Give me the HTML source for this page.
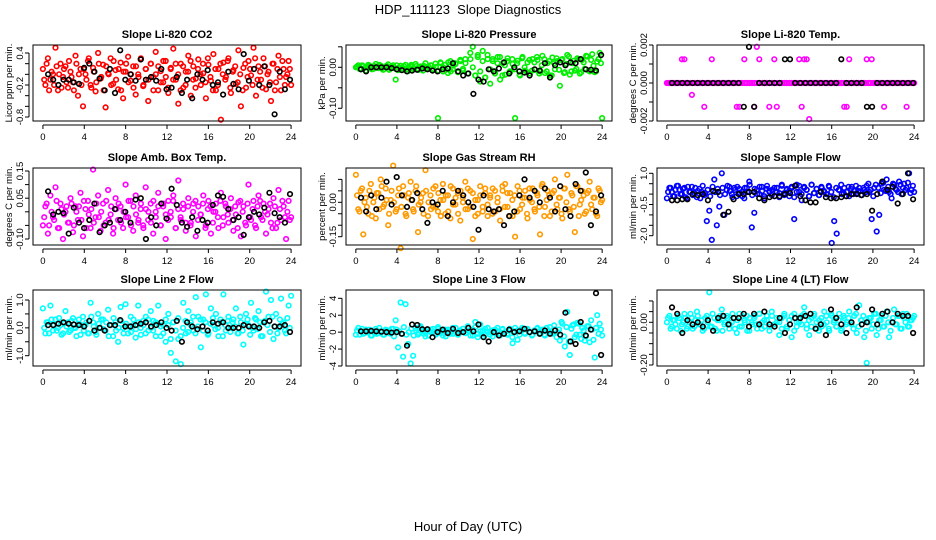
<!DOCTYPE html>
<html><head><meta charset="utf-8">
<style>
html,body{margin:0;padding:0;background:#fff;}
svg{display:block;font-family:"Liberation Sans",sans-serif;}
</style></head>
<body>
<svg id="chart" width="936" height="540" viewBox="0 0 936 540" xmlns="http://www.w3.org/2000/svg">
<text x="468" y="14" text-anchor="middle" font-size="13" style="white-space:pre">HDP_111123  Slope Diagnostics</text>
<text x="468" y="531" text-anchor="middle" font-size="13">Hour of Day (UTC)</text>
</svg>
<script>
// ---- data ----
const xTicks = [0,4,8,12,16,20,24];
const co2Colored = [0.1,-0.2,0.3,-0.1,0.0,0.5,-0.3,0.2,-0.05,0.15,-0.25,0.05,-0.15,0.35,-0.4,0.1,-0.6,0.0,0.25,-0.2,0.12,-0.32,0.4,-0.08,0.18,-0.62,0.02,0.3,-0.18,0.08,-0.28,0.22,-0.45,0.05,0.33,-0.12,0.15,-0.38,0.0,0.28,-0.22,0.1,-0.5,0.2,-0.05,0.42,-0.3,0.06,-0.15,0.25,-0.35,0.12,0.48,-0.1,-0.55,0.2,-0.25,0.05,0.35,-0.4,0.15,-0.08,0.28,-0.2,0.02,-0.45,0.18,-0.12,0.38,-0.3,0.1,-0.85,0.22,-0.05,0.3,-0.35,0.08,-0.18,0.45,-0.6,0.12,-0.25,0.25,-0.02,0.5,-0.4,0.15,-0.1,0.3,-0.28,0.05,-0.5,0.2,-0.15,0.35,-0.3,0.1,-0.05,0.25,-0.2];
const co2Dense = [-0.1,0.2,-0.3,0.05,-0.2,0.15,0.0,-0.25,0.1,-0.15,0.25,-0.05,-0.3,0.2,0.0,-0.2,0.1,-0.1,0.3,-0.25,0.05,-0.15,0.2,-0.05,-0.3,0.15,0.0,-0.2,0.25,-0.1,0.1,-0.3,0.05,0.2,-0.15,0.0,-0.25,0.15,-0.05,0.3,-0.2,0.1,-0.1,0.2,-0.3,0.0,0.15,-0.15,0.25,-0.05,-0.25,0.1,-0.1,0.2,0.0,-0.3,0.15,-0.2,0.05,0.25,-0.1,-0.25,0.1,0.0,0.2,-0.15,0.3,-0.05,-0.3,0.1,-0.2,0.2,0.0,-0.1,0.25,-0.25,0.05,0.15,-0.15,0.0,-0.3,0.2,-0.05,0.1,-0.2,0.3,-0.1,0.05,-0.25,0.15,0.0,-0.15,0.2,-0.3,0.1,-0.05,0.25,-0.2,0.0,0.1];
const co2Black = [0.0,-0.1,-0.2,-0.1,-0.1,-0.15,-0.18,0.12,0.2,0.05,-0.08,-0.3,0.1,-0.35,0.45,-0.1,0.0,-0.12,0.28,-0.1,-0.05,-0.12,0.1,-0.28,-0.25,-0.05,-0.35,-0.1,-0.45,0.0,-0.1,0.08,-0.2,-0.15,-0.38,0.05,-0.18,-0.28,0.38,-0.12,0.1,-0.2,0.15,-0.2,-0.75,0.05,-0.28,-0.1];
const pressColored = [0.0,0.005,-0.005,0.003,-0.008,0.006,0.002,-0.004,0.008,-0.002,0.004,-0.006,0.0,0.007,-0.003,0.005,-0.03,-0.007,0.004,-0.002,0.006,-0.009,0.003,-0.005,0.008,-0.004,0.002,-0.008,0.01,-0.003,0.005,-0.006,0.009,-0.124,0.012,-0.01,0.006,-0.014,0.015,-0.005,0.01,-0.012,0.018,-0.008,0.02,-0.015,0.035,0.05,-0.02,0.03,-0.035,0.04,-0.025,0.02,-0.04,0.015,-0.01,0.025,-0.03,0.01,-0.018,0.022,-0.012,0.008,-0.124,0.016,-0.02,0.025,-0.008,0.012,-0.015,0.02,-0.006,0.018,-0.01,0.028,-0.014,0.01,-0.02,0.024,-0.005,0.015,-0.045,0.02,-0.012,0.03,-0.018,0.01,-0.008,0.022,-0.015,0.018,-0.004,0.026,-0.01,0.032,-0.012,0.014,0.035,-0.124];
const pressDense = [0.002,-0.004,0.005,-0.002,0.0,0.004,-0.005,0.003,-0.001,0.006,-0.003,0.001,0.004,-0.006,0.002,-0.002,0.005,0.0,-0.004,0.003,-0.005,0.001,0.006,-0.002,0.003,-0.006,0.0,0.004,-0.003,0.002,0.005,-0.004,0.001,-0.008,0.01,0.0,-0.006,0.012,-0.01,0.004,0.008,-0.012,0.015,-0.004,0.01,-0.015,0.02,0.0,-0.02,0.025,-0.01,0.015,-0.025,0.03,-0.005,0.02,-0.015,0.01,0.025,-0.02,0.005,0.015,-0.01,0.02,-0.005,0.01,-0.018,0.022,0.0,-0.012,0.018,-0.008,0.012,0.025,-0.015,0.005,0.02,-0.01,0.015,-0.02,0.01,0.022,-0.006,0.018,-0.014,0.008,0.026,-0.01,0.016,-0.004,0.02,-0.012,0.012,0.028,-0.008,0.018,0.004,-0.01,0.02,0.01];
const pressBlack = [-0.005,-0.01,0.0,0.0,0.0,0.0,-0.002,-0.005,-0.007,-0.01,-0.008,-0.006,-0.003,-0.005,-0.008,-0.01,-0.005,-0.003,0.01,-0.01,-0.02,-0.015,-0.065,-0.03,-0.035,-0.005,-0.01,-0.003,0.012,-0.015,0.0,-0.01,-0.013,-0.02,-0.005,-0.008,0.01,-0.025,0.005,0.012,0.005,0.012,0.01,0.02,-0.005,-0.006,-0.008,0.03];
const tempColored = [0,0,0,0,0,0,0.00125,0.00125,0,0,-0.000625,0,0,0,0,-0.00125,0,0,0.00125,0,0,0,0,0,0,0,0,0,-0.00125,-0.00125,0,0.00125,0,0,0,-0.00125,0.0019,0.00125,0,0,0,-0.00125,0,0.00125,-0.00125,0,0,0,0,0,0,0,0,0.00125,-0.00125,0.00125,0.00125,-0.0019,0,0,0,0,0,0,0,0,0,0,0,0,0,-0.00125,-0.00125,0.00125,0,0,0,0,0,0,0.00125,0,0.00125,0,0,0,0,-0.00125,0,0,0,0,0,0,0,0,-0.00125,0,0,0];
const tempDense = [0,0,0,0,0,0,0,0,0,0,0,0,0,0,0,0,0,0,0,0,0,0,0,0,0,0,0,0,0,0,0,0,0,0,0,0,0,0,0,0,0,0,0,0,0,0,0,0,0,0,0,0,0,0,0,0,0,0,0,0,0,0,0,0,0,0,0,0,0,0,0,0,0,0,0,0,0,0,0,0,0,0,0,0,0,0,0,0,0,0,0,0,0,0,0,0,0,0,0,0];
const tempBlack = [0,0,0,0,0,0,0,0,0,0,0,0,0,0,-0.00125,0.0019,-0.00125,0,0,0,0,0,0.00125,0.00125,0,0,0,0,0,0,0,0,0,0.00125,0,0,0,0,-0.00125,-0.00125,0,0,0,0,0,0,0,0];
const ambColored = [-0.05,0.02,-0.08,0.06,-0.02,0.09,-0.06,0.03,-0.1,0.0,-0.04,0.05,-0.075,0.02,-0.03,0.07,-0.09,0.01,0.04,-0.06,0.155,-0.02,0.06,-0.07,0.03,-0.04,0.08,-0.01,-0.08,0.05,-0.03,0.02,-0.06,0.1,-0.02,0.04,-0.07,0.06,-0.04,0.01,-0.05,0.09,-0.03,0.03,-0.08,0.0,0.07,-0.05,0.02,-0.1,0.04,-0.02,0.06,-0.06,0.115,-0.03,0.01,-0.07,0.05,-0.04,0.03,-0.09,0.02,-0.01,0.06,-0.05,0.04,-0.08,0.0,0.03,-0.06,0.07,-0.02,0.02,-0.04,0.05,-0.07,-0.01,0.035,-0.09,0.02,-0.05,0.1,-0.03,0.04,-0.06,0.06,-0.02,0.03,-0.08,0.01,-0.04,0.05,-0.06,0.08,-0.03,0.02,-0.1,0.04,-0.02];
const ambDense = [-0.02,0.03,-0.05,0.0,-0.03,0.04,-0.06,0.01,-0.01,0.02,-0.04,0.03,-0.05,0.0,0.02,-0.03,0.04,-0.06,-0.01,0.01,-0.04,0.03,-0.02,0.0,-0.05,0.04,-0.03,0.02,-0.06,0.01,0.03,-0.04,0.0,-0.02,0.04,-0.05,0.02,-0.01,-0.03,0.03,-0.06,0.01,0.0,-0.04,0.04,-0.02,0.02,-0.05,0.03,-0.01,-0.03,0.0,0.04,-0.06,0.01,-0.02,0.03,-0.04,0.02,-0.05,0.0,0.04,-0.03,-0.01,0.03,-0.06,0.01,0.02,-0.04,0.0,-0.02,0.04,-0.05,0.03,-0.01,0.01,-0.03,0.02,-0.06,0.04,0.0,-0.04,0.03,-0.02,0.01,-0.05,0.02,0.04,-0.03,0.0,-0.01,0.03,-0.06,0.02,-0.04,0.01,0.04,-0.02,0.0,-0.03];
const ambBlack = [0.075,-0.01,0.0,-0.005,-0.08,0.015,-0.04,-0.06,-0.03,0.03,-0.075,-0.05,-0.04,0.01,-0.03,0.0,-0.04,0.045,0.05,-0.1,-0.02,-0.05,0.03,-0.025,0.085,0.025,-0.04,-0.055,-0.02,-0.07,-0.03,-0.04,0.025,0.06,0.055,0.01,-0.03,-0.02,-0.085,-0.02,0.0,-0.01,0.015,0.07,-0.005,-0.02,-0.04,0.065];
const rhColored = [0.12,-0.03,0.05,-0.14,0.02,-0.05,0.08,0.0,-0.07,0.04,0.1,-0.02,0.06,-0.1,0.01,0.16,-0.04,0.03,-0.2,0.07,-0.05,0.02,0.09,-0.03,0.05,-0.13,0.0,0.04,0.14,-0.06,0.03,-0.02,0.07,-0.04,0.01,0.08,-0.05,0.03,-0.07,0.06,-0.01,0.04,-0.08,0.02,0.09,-0.03,0.05,-0.16,0.01,-0.05,0.07,-0.02,0.04,-0.06,0.03,0.06,-0.04,0.02,-0.08,0.05,0.08,-0.02,0.04,-0.06,-0.15,0.07,-0.03,0.02,0.05,-0.07,0.01,0.06,-0.04,0.03,-0.14,0.08,-0.02,0.05,-0.06,0.04,0.1,-0.03,0.02,-0.07,0.06,0.12,-0.04,0.03,-0.13,0.07,-0.01,0.05,-0.05,0.04,0.09,-0.03,0.02,-0.06,0.05,0.01];
const rhDense = [0.03,-0.04,0.06,0.0,-0.02,0.05,-0.06,0.02,0.04,-0.03,0.07,-0.01,0.01,-0.05,0.05,0.0,-0.03,0.06,-0.02,0.03,-0.06,0.04,0.01,-0.04,0.07,-0.01,0.02,-0.05,0.05,0.0,-0.03,0.06,-0.02,0.04,-0.06,0.01,0.03,-0.04,0.07,-0.01,0.02,-0.05,0.05,0.0,-0.03,0.06,-0.02,0.04,-0.06,0.01,0.03,-0.04,0.06,-0.01,0.02,-0.05,0.05,0.0,-0.03,0.07,-0.02,0.04,-0.06,0.01,0.03,-0.04,0.05,-0.01,0.02,-0.05,0.06,0.0,-0.03,0.04,-0.02,0.07,-0.06,0.01,0.03,-0.04,0.05,-0.01,0.02,-0.05,0.06,0.0,-0.03,0.04,-0.02,0.07,-0.06,0.01,0.03,-0.04,0.05,-0.01,0.02,-0.05,0.06,0.0];
const rhBlack = [0.02,-0.04,0.03,-0.03,0.02,0.09,-0.01,0.11,0.03,-0.02,0.01,0.04,-0.03,-0.09,0.0,-0.01,0.05,-0.06,0.0,0.05,0.03,0.0,-0.02,-0.12,0.03,-0.03,-0.04,-0.03,-0.1,-0.06,-0.04,0.03,0.1,0.02,0.05,0.0,0.06,0.02,-0.04,0.07,-0.03,-0.06,0.08,0.05,0.13,-0.1,-0.04,0.03];
const sampleColored = [-0.2,0.3,0.1,-0.1,0.4,0.2,0.0,0.3,-0.2,0.1,0.35,0.05,-0.15,0.25,0.1,-0.05,-1.3,-0.8,-2.2,0.7,-1.5,-0.6,1.0,-1.0,0.2,0.35,0.0,0.3,-0.1,0.25,0.1,-0.2,0.3,0.6,-1.6,-0.9,0.2,0.0,0.35,-0.1,0.25,0.15,-0.05,0.3,0.1,-0.15,0.4,0.05,0.2,-0.1,0.3,-1.2,0.45,0.1,-0.3,0.35,0.2,-0.1,0.45,0.05,0.25,-0.05,0.3,0.1,0.0,0.35,-2.35,-1.3,-1.9,0.2,0.0,0.3,0.1,-0.1,0.35,0.15,0.05,0.3,-0.05,0.2,0.4,0.1,-1.2,0.3,-1.8,-1.0,0.5,0.2,0.7,0.1,-0.2,0.45,0.2,0.6,0.0,0.5,0.3,1.0,0.2,0.1];
const sampleDense = [0.1,0.3,-0.1,0.2,0.4,0.0,0.25,-0.15,0.35,0.1,-0.05,0.3,0.15,-0.2,0.4,0.05,0.2,-0.1,0.35,0.1,0.25,-0.05,0.3,0.0,0.4,0.15,-0.15,0.2,0.35,0.05,-0.1,0.3,0.1,0.45,-0.05,0.25,0.0,0.35,0.15,-0.2,0.4,0.1,0.2,-0.1,0.3,0.05,0.45,-0.05,0.25,0.15,0.35,-0.15,0.1,0.4,0.0,0.3,0.2,-0.1,0.45,0.05,0.25,-0.05,0.35,0.15,0.0,0.4,0.1,-0.15,0.3,0.2,0.45,0.05,-0.1,0.35,0.25,0.0,0.4,0.15,-0.05,0.3,0.1,0.5,0.2,-0.1,0.45,0.3,0.05,0.55,0.15,0.35,0.0,0.5,0.25,0.1,0.45,0.3,0.2,0.55,0.05,0.4];
const sampleBlack = [-0.3,-0.3,-0.25,-0.25,0.0,-0.05,0.0,-0.3,0.15,0.1,-1.0,-0.85,-0.25,0.0,0.0,0.1,0.1,-0.2,-0.3,-0.15,-0.1,-0.1,0.0,0.05,0.4,-0.1,-0.3,-0.4,-0.4,0.1,-0.15,-0.2,-0.2,-0.15,-0.1,0.0,0.0,-0.05,0.0,-0.8,0.0,0.6,0.2,0.35,-0.45,0.0,1.0,-0.25];
const line2Colored = [0.7,-0.2,0.2,0.8,-0.1,0.3,0.0,0.1,-0.2,0.6,0.2,-0.1,0.35,0.0,0.15,-0.25,0.4,0.1,-0.2,0.9,0.2,-0.15,0.5,0.0,0.3,-0.1,0.65,0.1,-0.3,0.2,-0.5,0.75,0.0,0.85,-0.2,0.4,0.1,-0.35,0.8,0.0,0.25,-0.2,0.3,0.6,-0.1,0.2,0.8,-0.3,0.1,-0.5,0.5,-0.9,0.2,-1.2,-0.4,-1.3,0.9,-0.2,0.6,0.2,-0.1,1.1,0.4,-0.7,0.3,1.2,-0.2,0.7,0.1,0.5,-0.3,0.2,1.2,-0.1,0.4,0.0,0.3,0.7,-0.2,0.2,-0.6,0.5,0.1,0.9,-0.1,0.3,0.6,-0.3,0.2,1.3,0.4,1.0,-0.4,0.5,0.0,1.05,0.2,-0.2,0.8,1.15];
const line2Dense = [0.0,0.2,-0.2,0.3,0.1,-0.1,0.35,-0.25,0.15,0.05,-0.15,0.25,0.0,-0.3,0.3,0.1,-0.1,0.2,-0.2,0.4,0.05,-0.25,0.15,0.3,-0.05,0.2,-0.3,0.1,0.35,-0.1,0.0,0.25,-0.2,0.15,0.05,-0.15,0.3,-0.05,0.2,-0.25,0.1,0.4,-0.1,0.0,0.25,-0.3,0.15,0.05,-0.2,0.3,0.1,-0.4,0.2,-0.1,0.35,-0.3,0.0,0.25,-0.15,0.1,0.4,-0.2,0.05,0.3,-0.1,0.2,-0.25,0.15,0.35,-0.05,0.0,0.3,-0.3,0.1,0.25,-0.15,0.2,0.05,-0.2,0.4,-0.1,0.15,0.3,-0.25,0.0,0.35,-0.05,0.2,-0.3,0.25,0.1,-0.15,0.4,0.05,-0.2,0.3,0.15,-0.1,0.35,0.0];
const line2Black = [0.1,0.1,0.15,0.2,0.15,0.12,0.1,0.05,0.25,-0.1,0.0,-0.1,0.1,0.1,0.28,0.05,0.05,0.1,0.15,0.2,0.05,0.1,0.2,0.0,-0.1,0.25,-0.5,0.2,0.05,-0.05,0.05,-0.1,0.2,0.15,0.2,0.0,0.0,0.0,0.1,0.05,0.05,0.0,0.2,0.25,0.05,0.05,0.1,-0.15];
const line3Colored = [-0.3,0.5,0.1,-0.2,0.3,0.0,-0.4,0.2,0.4,-0.1,0.1,-0.3,0.3,0.0,-0.2,0.4,1.4,-1.8,3.5,-2.9,3.3,-1.4,-3.7,-2.8,0.5,-0.3,0.7,0.1,-0.5,0.3,0.0,0.4,-0.2,0.6,0.2,-0.4,0.3,0.1,-0.2,0.5,0.0,-0.3,0.2,0.4,-0.1,0.7,0.1,-0.4,1.2,-0.6,0.9,0.2,-0.3,0.5,0.0,-0.5,0.3,0.1,-0.2,0.4,0.0,-0.3,0.2,-1.3,0.5,-0.9,0.1,0.3,-0.2,0.4,0.0,-0.3,0.2,0.5,-0.1,0.3,-0.4,0.1,0.6,-0.2,0.3,0.0,-1.0,1.0,-1.7,2.4,-2.7,0.8,-0.6,1.1,-0.3,0.5,-1.0,0.7,-1.2,0.3,-3.0,2.0,1.0,-0.4];
const line3Dense = [0.2,-0.3,0.4,-0.1,0.0,0.3,-0.4,0.1,-0.2,0.5,0.0,-0.3,0.2,-0.1,0.4,-0.5,0.3,0.1,-0.2,0.6,-0.3,0.0,0.4,-0.4,0.2,-0.1,0.5,-0.2,0.1,-0.4,0.3,0.0,-0.3,0.4,-0.1,0.2,-0.5,0.3,0.1,-0.2,0.5,-0.3,0.0,0.4,-0.1,0.2,-0.4,0.3,0.6,-0.2,0.1,-0.5,0.4,0.0,-0.3,0.2,-0.1,0.5,-0.4,0.3,0.0,-0.2,0.4,-0.6,0.1,0.2,-0.3,0.5,-0.1,0.3,0.0,-0.4,0.2,0.4,-0.2,0.1,-0.3,0.5,0.0,-0.1,0.8,-0.6,0.3,1.2,-0.5,0.6,-1.1,0.4,0.9,-0.3,1.0,-0.8,0.2,-0.5,0.7,1.4,-0.9,0.5,-0.2,0.3];
const line3Black = [0.1,0.1,0.15,0.1,0.05,0.0,-0.05,0.0,-0.2,-1.6,0.9,0.85,0.35,0.35,-0.6,0.0,0.3,-0.1,0.4,-0.1,0.0,0.5,0.1,0.9,-0.6,-1.1,0.0,-0.4,-0.2,0.3,0.0,0.1,0.4,0.0,0.1,-0.2,0.2,-0.2,0.2,-0.3,2.3,-1.1,-1.4,1.2,-0.4,0.3,4.6,-2.7];
const line4Colored = [0.0,0.03,-0.02,0.01,-0.03,0.02,-0.01,0.04,-0.03,0.0,0.02,-0.02,0.05,-0.01,0.01,-0.03,0.03,0.14,-0.02,0.02,-0.04,0.01,0.06,-0.01,0.03,-0.03,0.0,0.02,-0.05,0.04,-0.02,0.01,0.03,-0.04,0.0,0.02,-0.01,0.04,-0.03,0.01,0.03,-0.02,0.05,-0.01,0.0,-0.06,0.02,0.03,-0.03,0.01,-0.07,0.04,-0.02,0.0,0.03,0.07,-0.01,-0.06,0.02,0.04,-0.03,0.01,-0.02,0.05,0.0,-0.04,0.03,0.01,-0.02,0.04,-0.03,0.02,0.0,0.05,-0.01,0.03,-0.05,0.08,0.01,-0.07,-0.19,0.02,-0.03,0.04,-0.06,0.01,0.03,-0.02,0.05,-0.07,0.0,0.06,-0.01,0.03,-0.03,0.02,0.04,-0.02,0.01,0.03];
const line4Dense = [0.02,-0.03,0.01,-0.01,0.03,-0.04,0.0,0.02,-0.02,0.04,-0.03,0.01,0.03,-0.01,-0.04,0.02,0.0,-0.02,0.04,-0.03,0.01,0.03,-0.04,0.0,0.02,-0.01,0.04,-0.03,0.01,-0.02,0.03,0.0,-0.04,0.02,-0.01,0.03,-0.03,0.04,0.0,-0.02,0.01,-0.04,0.03,-0.01,0.02,0.0,-0.03,0.04,-0.02,0.01,0.03,-0.04,0.0,0.02,-0.01,0.04,-0.03,0.01,-0.02,0.03,0.0,-0.04,0.02,-0.01,0.03,-0.03,0.04,0.0,-0.02,0.01,-0.04,0.03,-0.01,0.02,0.0,-0.03,0.04,-0.02,0.01,0.03,-0.04,0.0,0.02,-0.01,0.04,-0.03,0.01,-0.02,0.03,0.0,-0.04,0.02,-0.01,0.03,-0.03,0.04,0.0,-0.02,0.01,0.02];
const line4Black = [0.07,0.04,-0.05,0.01,-0.01,0.0,-0.02,0.01,-0.04,0.02,0.03,-0.01,0.02,0.02,0.04,-0.02,0.04,-0.01,0.05,-0.01,-0.02,0.02,-0.05,-0.01,0.02,0.02,0.03,0.04,-0.03,-0.01,-0.06,0.06,0.02,-0.01,-0.05,0.0,0.07,-0.01,0.0,0.06,-0.01,0.04,0.05,0.0,0.04,0.03,0.03,-0.05];
const co2YTicks = [0.4,0.2,0,-0.2,-0.4,-0.6,-0.8];
const co2YLabels = ["0.4","","","-0.2","","","-0.8"];
const pressYTicks = [0.05,0,-0.05,-0.1];
const pressYLabels = ["","0.00","","-0.10"];
const tempYTicks = [0.002,0.001,0,-0.001,-0.002];
const tempYLabels = ["0.002","","0.000","","-0.002"];
const ambYTicks = [0.15,0.1,0.05,0,-0.05,-0.1];
const ambYLabels = ["0.15","","0.05","","","-0.10"];
const rhYTicks = [0.1,0.05,0,-0.05,-0.1,-0.15];
const rhYLabels = ["","","0.00","","","-0.15"];
const sampleYTicks = [1,0.5,0,-0.5,-1,-1.5,-2];
const sampleYLabels = ["1.0","","","-0.5","","","-2.0"];
const line2YTicks = [1,0.5,0,-0.5,-1];
const line2YLabels = ["1.0","","0.0","","-1.0"];
const line3YTicks = [4,2,0,-2,-4];
const line3YLabels = ["4","2","0","-2","-4"];
const line4YTicks = [0.1,0.05,0,-0.05,-0.1,-0.15,-0.2];
const line4YLabels = ["","","0.00","","","","-0.20"];

// ---- layout ----
const NS = "http://www.w3.org/2000/svg";
const svg = document.getElementById("chart");
const cols = [[33,301],[346,612],[657,924]];
const rows = [[45,121],[168,245],[290,366]];
const panels = [
 {name:"co2",title:"Slope Li-820 CO2",ylab:"Licor ppm per min.",col:0,row:0,color:"#ff0000",c:co2Colored,d:co2Dense,b:co2Black,yt:co2YTicks,yl:co2YLabels,cal:[0.4,53,-0.8,117]},
 {name:"pressure",title:"Slope Li-820 Pressure",ylab:"kPa per min.",col:1,row:0,color:"#00ee00",c:pressColored,d:pressDense,b:pressBlack,yt:pressYTicks,yl:pressYLabels,cal:[0,67.3,-0.1,108.3]},
 {name:"temp",title:"Slope Li-820 Temp.",ylab:"degrees C per min.",col:2,row:0,color:"#ff00ff",c:tempColored,d:tempDense,b:tempBlack,yt:tempYTicks,yl:tempYLabels,cal:[0.002,45,-0.002,121]},
 {name:"amb-box-temp",title:"Slope Amb. Box Temp.",ylab:"degrees C per min.",col:0,row:1,color:"#ff00ff",c:ambColored,d:ambDense,b:ambBlack,yt:ambYTicks,yl:ambYLabels,cal:[0.15,171,-0.1,239]},
 {name:"gas-stream-rh",title:"Slope Gas Stream RH",ylab:"percent per min.",col:1,row:1,color:"#ff9a00",c:rhColored,d:rhDense,b:rhBlack,yt:rhYTicks,yl:rhYLabels,cal:[0,202.3,-0.15,236.7]},
 {name:"sample-flow",title:"Slope Sample Flow",ylab:"ml/min per min.",col:2,row:1,color:"#0000ff",c:sampleColored,d:sampleDense,b:sampleBlack,yt:sampleYTicks,yl:sampleYLabels,cal:[1,173.3,-2,235.7]},
 {name:"line2-flow",title:"Slope Line 2 Flow",ylab:"ml/min per min.",col:0,row:2,color:"#00ffff",c:line2Colored,d:line2Dense,b:line2Black,yt:line2YTicks,yl:line2YLabels,cal:[1,300,-1,355.7]},
 {name:"line3-flow",title:"Slope Line 3 Flow",ylab:"ml/min per min.",col:1,row:2,color:"#00ffff",c:line3Colored,d:line3Dense,b:line3Black,yt:line3YTicks,yl:line3YLabels,cal:[4,298.3,-4,366]},
 {name:"line4-flow",title:"Slope Line 4 (LT) Flow",ylab:"ml/min per min.",col:2,row:2,color:"#00ffff",c:line4Colored,d:line4Dense,b:line4Black,yt:line4YTicks,yl:line4YLabels,cal:[0,322.3,-0.2,365]}
];
function mk(tag, attrs, parent){
  const e = document.createElementNS(NS, tag);
  for (const k in attrs) e.setAttribute(k, attrs[k]);
  (parent||svg).appendChild(e);
  return e;
}
panels.forEach(p=>{
  const [L,R] = cols[p.col], [T,B] = rows[p.row];
  const g = mk("g",{});
  
  
  const xs = h => L + (h + 0.96) / 25.92 * (R - L);
  const [v1,y1,v2,y2] = p.cal;
  const ys = v => y1 + (v - v1) * (y2 - y1) / (v2 - v1);
  const t = mk("text",{x:(L+R)/2,y:T-7,"text-anchor":"middle","font-size":"11","font-weight":"bold"},g);
  t.textContent = p.title;
  
  
  const yl = mk("text",{x:0,y:0,"text-anchor":"middle","font-size":"9.5",transform:`translate(${L-21},${(T+B)/2}) rotate(-90)`},g);
  yl.textContent = p.ylab;
  
  
  const nd = p.d.length;
  p.d.forEach((v,i)=>{
    const c = mk("circle",{cx:xs((i+0.5)*24/nd).toFixed(1),cy:ys(v).toFixed(1),r:2.3,fill:"none",stroke:p.color,"stroke-width":1.6},g);
    
    
  });
  const n = p.c.length;
  p.c.forEach((v,i)=>{
    const c = mk("circle",{cx:xs(i*24/(n-1)).toFixed(1),cy:ys(v).toFixed(1),r:2.3,fill:"none",stroke:p.color,"stroke-width":1.6},g);
    
    
  });
  const m = p.b.length;
  p.b.forEach((v,i)=>{
    const c = mk("circle",{cx:xs(0.5+i*23.4/(m-1)).toFixed(1),cy:ys(v).toFixed(1),r:2.3,fill:"none",stroke:"#000","stroke-width":1.6},g);
    
    
  });
  const box = mk("rect",{x:L,y:T,width:R-L,height:B-T,fill:"none",stroke:"#000","stroke-width":1},g);
  
  
  const xa = mk("g",{},g);
  
  
  mk("line",{x1:xs(xTicks[0]),x2:xs(xTicks[xTicks.length-1]),y1:B+4,y2:B+4,stroke:"#000"},xa);
  xTicks.forEach(h=>{
    mk("line",{x1:xs(h),x2:xs(h),y1:B+4,y2:B+8,stroke:"#000"},xa);
    const tl = mk("text",{x:xs(h),y:B+19,"text-anchor":"middle","font-size":"9.5"},xa);
    tl.textContent = String(h);
    
    
  });
  const ya = mk("g",{},g);
  
  
  mk("line",{x1:L-4,x2:L-4,y1:ys(p.yt[0]),y2:ys(p.yt[p.yt.length-1]),stroke:"#000"},ya);
  p.yt.forEach((v,i)=>{
    mk("line",{x1:L-8,x2:L-4,y1:ys(v),y2:ys(v),stroke:"#000"},ya);
    if (p.yl[i]) {
      const tl = mk("text",{x:0,y:0,"text-anchor":"middle","font-size":"9.5",transform:`translate(${L-10},${ys(v)}) rotate(-90)`},ya);
      tl.textContent = p.yl[i];
      
      
    }
  });
});
</script>
</body></html>
